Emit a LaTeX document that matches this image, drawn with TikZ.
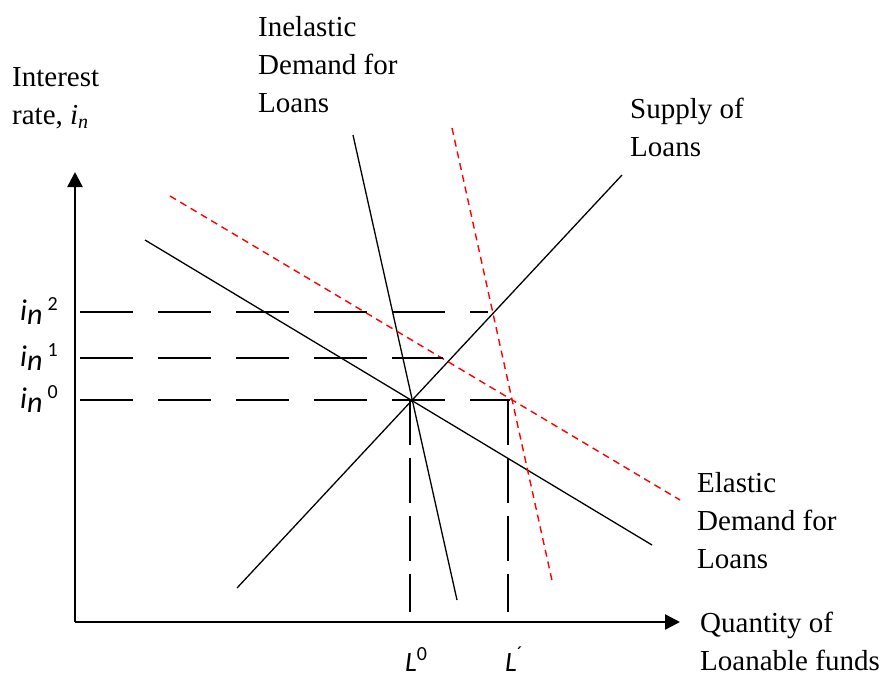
\documentclass[tikz,border=0pt]{standalone}
\usepackage{fontspec}
\setmainfont{Liberation Serif}
\newfontfamily\calib{Carlito}
\usetikzlibrary{arrows.meta}

% interest rate label i_n^k
\newcommand{\irate}[1]{i\raisebox{-4pt}{n}\,\raisebox{10pt}{\upshape\fontsize{20}{20}\selectfont #1}}

\begin{document}
\begin{tikzpicture}[x=1pt, y=-1pt,
  curve/.style={line width=1.3pt},
  shifted/.style={red, line width=1.4pt, dash pattern=on 7pt off 5pt},
  guide/.style={line width=1.5pt, dash pattern=on 53pt off 25pt},
  vguide/.style={line width=1.5pt, dash pattern=on 45pt off 13pt},
  axis/.style={line width=2.4pt, -{Triangle[length=15pt,width=15pt]}},
  lbl/.style={align=left, anchor=base west, inner sep=0pt, font=\fontsize{29}{38}\selectfont},
  rate/.style={inner sep=0pt, anchor=base west, font=\calib\itshape\fontsize{30}{30}\selectfont}]
  \useasboundingbox (0,0) rectangle (883,677);

  % Axes
  \coordinate (O) at (75,622);
  \draw[axis] (O) -- (75,172);
  \draw[axis] (O) -- (680,622);
  \node[lbl] (ylab) at (12,124) {Interest\\rate, \textit{i}\raisebox{-4pt}{\fontsize{20}{20}\selectfont\textit{n}}};
  \node[lbl] (xlab) at (700,670) {Quantity of\\Loanable funds};

  % Equilibrium points
  \coordinate (E) at (410,400);
  \coordinate (F) at (508,400);

  % Supply and demand curves
  \draw[curve] (237,588) -- (622,175);
  \draw[curve] (145,240) -- (652,545);
  \draw[curve] (353,135) -- (457,600);
  \node[lbl] (supply) at (630,156) {Supply of\\Loans};
  \node[lbl] (elastic) at (697,568) {Elastic\\Demand for\\Loans};
  \node[lbl] (inelastic) at (258,112) {Inelastic\\Demand for\\Loans};

  % Shifted demand curves (dashed red)
  \draw[shifted] (170,196) -- (680,500);
  \draw[shifted] (452,128) -- (553,585);

  % Interest rate levels
  \foreach \k/\y/\xe in {2/312/488, 1/358/443, 0/400/510} {
    \draw[guide] (80,\y) -- (\xe,\y);
    \node[rate] (i\k) at (20,\y+8) {\irate{\k}};
  }

  % Quantities
  \draw[vguide] (E) -- (410,612);
  \draw[vguide] (F) -- (508,612);
  \node[rate, font=\calib\itshape\fontsize{28}{28}\selectfont] (L0) at (405,671) {L\raisebox{11pt}{\upshape\fontsize{20}{20}\selectfont 0}};
  \node[rate, font=\calib\itshape\fontsize{28}{28}\selectfont] (L1) at (505,671) {L\raisebox{11pt}{\upshape\fontsize{20}{20}\selectfont\char"00B4}};
\end{tikzpicture}
\end{document}
